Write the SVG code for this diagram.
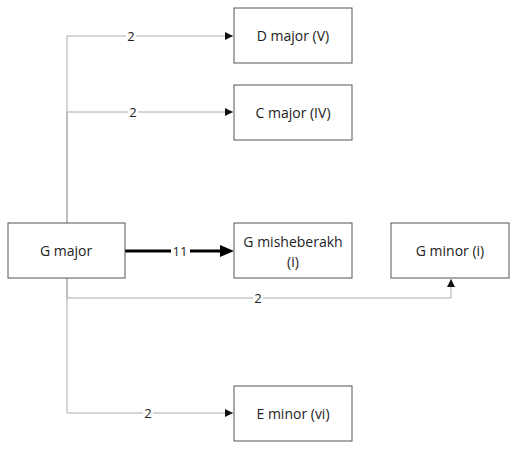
<svg xmlns="http://www.w3.org/2000/svg" width="517" height="450" viewBox="0 0 517 450">
<style>
.node rect{fill:#fff;stroke:#555;stroke-width:1}
.node text{font-family:"Open Sans",sans-serif;font-size:14px;fill:#222;text-anchor:middle}
.edge{fill:none;stroke:#aaa;stroke-width:1}
.thick{fill:none;stroke:#000;stroke-width:3}
.lbl{font-family:"Open Sans",sans-serif;font-size:13px;fill:#222;text-anchor:middle;dominant-baseline:central}
.lblbg{fill:#fff}
</style>
<defs>
<marker id="ah" viewBox="0 0 10 10" refX="10" refY="5" markerWidth="8" markerHeight="8" markerUnits="userSpaceOnUse" orient="auto"><path d="M0,0 L10,5 L0,10 z" fill="#111"/></marker>
</defs>
<rect width="517" height="450" fill="#fff"/>
<g id="connectors">
<path class="edge" d="M67,223 V36 H233" marker-end="url(#ah)"/>
<path class="edge" d="M67,223 V112 H233" marker-end="url(#ah)"/>
<path class="edge" d="M67,278 V298 H451 V279" marker-end="url(#ah)"/>
<path class="edge" d="M67,278 V413 H233" marker-end="url(#ah)"/>
<path class="thick" d="M125,251 H220"/>
<path d="M220,245 L234,251 L220,257 z" fill="#000"/>
<rect class="lblbg" x="126" y="29" width="10" height="14"/><text class="lbl" x="131" y="36">2</text>
<rect class="lblbg" x="128" y="105" width="10" height="14"/><text class="lbl" x="133" y="112">2</text>
<rect class="lblbg" x="171" y="244" width="19" height="14"/><text class="lbl" x="180" y="251">11</text>
<rect class="lblbg" x="253" y="291" width="10" height="14"/><text class="lbl" x="258" y="298">2</text>
<rect class="lblbg" x="143" y="406" width="10" height="14"/><text class="lbl" x="148" y="413">2</text>
</g>
<g id="n-dmajor" class="node"><rect x="234" y="8" width="118" height="55"/><text x="293" y="41">D major (V)</text></g>
<g id="n-cmajor" class="node"><rect x="234" y="85" width="118" height="55"/><text x="293" y="118">C major (IV)</text></g>
<g id="n-gmajor" class="node"><rect x="8" y="223" width="117" height="55"/><text x="66" y="256">G major</text></g>
<g id="n-gmish" class="node"><rect x="234" y="223" width="118" height="55"/><text x="293" y="247">G misheberakh</text><text x="293" y="267">(i)</text></g>
<g id="n-gminor" class="node"><rect x="391" y="223" width="118" height="55"/><text x="450" y="256">G minor (i)</text></g>
<g id="n-eminor" class="node"><rect x="234" y="386" width="118" height="55"/><text x="293" y="419">E minor (vi)</text></g>
</svg>
